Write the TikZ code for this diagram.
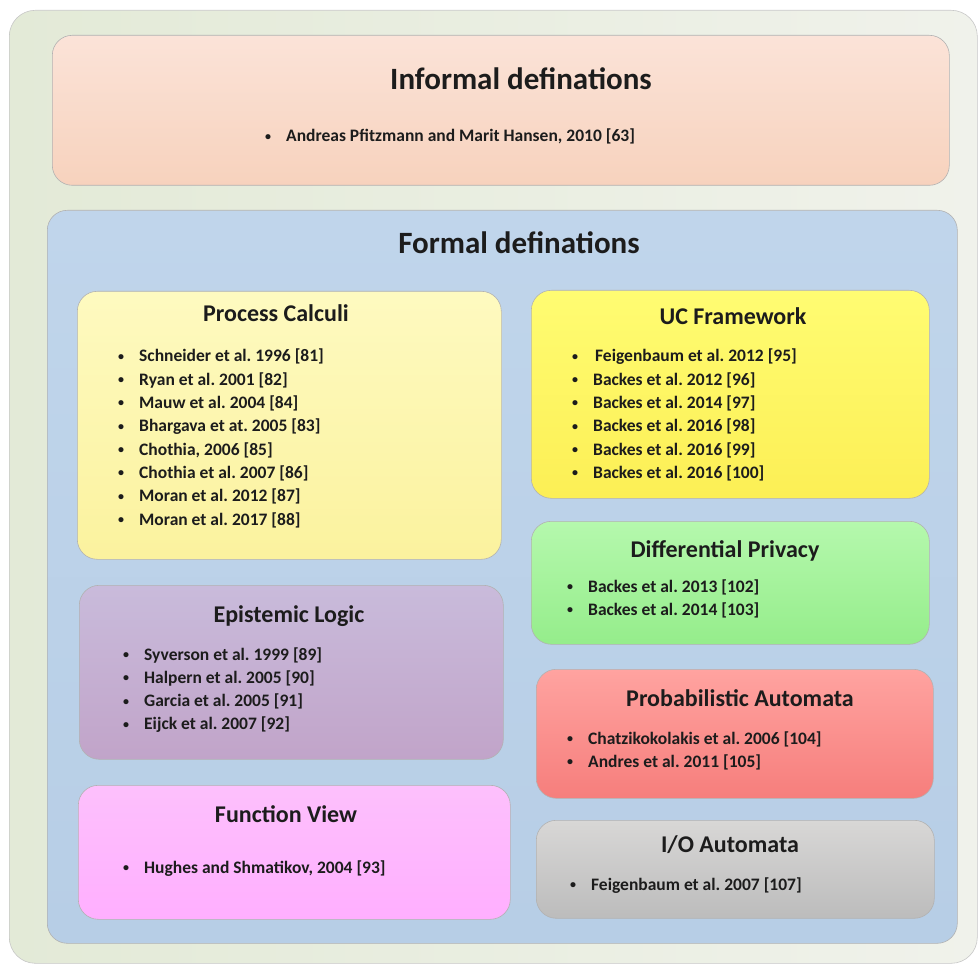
\documentclass[tikz,border=0pt]{standalone}
\usepackage{fontspec}
\setmainfont{Carlito}
\usepackage{xcolor}
\usepackage{tikz}

\definecolor{ink}{HTML}{1C1C1C}
\definecolor{outerL}{HTML}{E3EAD7}
\definecolor{outerR}{HTML}{F0F2EB}
\definecolor{infT}{HTML}{FBE3D8}
\definecolor{infB}{HTML}{F7D2BD}
\definecolor{forT}{HTML}{C0D5EB}
\definecolor{forB}{HTML}{B7CEE6}
\definecolor{calcT}{HTML}{FEFAC0}
\definecolor{calcB}{HTML}{FBF29E}
\definecolor{ucT}{HTML}{FFFC72}
\definecolor{ucB}{HTML}{FCEF55}
\definecolor{dpT}{HTML}{B5F8AD}
\definecolor{dpB}{HTML}{95ED8B}
\definecolor{epT}{HTML}{C9BBDB}
\definecolor{epB}{HTML}{C1A4C9}
\definecolor{fvT}{HTML}{FDC0FC}
\definecolor{fvB}{HTML}{FFAFFF}
\definecolor{paT}{HTML}{FFA3A0}
\definecolor{paB}{HTML}{F67E7C}
\definecolor{ioT}{HTML}{D8D7D6}
\definecolor{ioB}{HTML}{BCBCBC}

\newcommand{\itm}{\makebox[21pt][l]{\raisebox{1.6pt}{\fontsize{12}{12}\selectfont\textbullet}}}
\newcommand{\reflist}[1]{\begin{tabular}[t]{@{}l@{}}#1\end{tabular}}

\begin{document}
\frenchspacing
\begin{tikzpicture}[x=1pt, y=-1pt,
  box/.style={rectangle, rounded corners=20pt, draw=black!30, line width=0.6pt,
              inner sep=0pt, anchor=north west},
  head/.style={anchor=base, inner sep=0pt, text=ink, font=\fontsize{24}{28}\selectfont\bfseries},
  big/.style={head, font=\fontsize{31}{36}\selectfont\bfseries},
  refs/.style={anchor=base west, inner sep=0pt, text=ink, font=\fontsize{17.5}{23.3}\selectfont\bfseries}
]
\useasboundingbox (0,0) rectangle (980,965);
% frames
\node[box, rounded corners=26pt, draw=black!22, left color=outerL, right color=outerR,
      minimum width=968pt, minimum height=953pt] (outer) at (9,10) {};
\node[box, top color=infT, bottom color=infB, minimum width=897pt, minimum height=150pt] (informal) at (52,35) {};
\node[box, top color=forT, bottom color=forB, minimum width=910pt, minimum height=733pt] (formal) at (47,210) {};
\node[box, top color=calcT, bottom color=calcB, minimum width=424pt, minimum height=268pt] (calc) at (77,291) {};
\node[box, top color=ucT, bottom color=ucB, minimum width=398pt, minimum height=208pt] (uc) at (531,290) {};
\node[box, top color=dpT, bottom color=dpB, minimum width=398pt, minimum height=123pt] (dp) at (531,521) {};
\node[box, top color=epT, bottom color=epB, minimum width=424pt, minimum height=174pt] (epist) at (79,585) {};
\node[box, top color=fvT, bottom color=fvB, minimum width=432pt, minimum height=134pt] (func) at (78,785) {};
\node[box, top color=paT, bottom color=paB, minimum width=397pt, minimum height=129pt] (prob) at (536,669) {};
\node[box, top color=ioT, bottom color=ioB, minimum width=398pt, minimum height=98pt] (io) at (536,820) {};
% titles
\node[big] (informalT) at (521,90) {Informal definations};
\node[big] (formalT) at (519,254) {Formal definations};
\node[head] (calcT) at (276,322) {Process Calculi};
\node[head] (ucT) at (733,325) {UC Framework};
\node[head] (dpT) at (725,557) {Differential Privacy};
\node[head] (epistT) at (289,622) {Epistemic Logic};
\node[head] (funcT) at (286,822) {Function View};
\node[head] (probT) at (740,706) {Probabilistic Automata};
\node[head] (ioT) at (730,852) {I/O Automata};
% references
\node[refs] (informalL) at (265,142) {\reflist{\itm Andreas Pfitzmann and Marit Hansen, 2010 [63]}};
\node[refs] (calcL) at (118,362) {\reflist{%
  \itm Schneider et al. 1996 [81]\\
  \itm Ryan et al. 2001 [82]\\
  \itm Mauw et al. 2004 [84]\\
  \itm Bhargava et at. 2005 [83]\\
  \itm Chothia, 2006 [85]\\
  \itm Chothia et al. 2007 [86]\\
  \itm Moran et al. 2012 [87]\\
  \itm Moran et al. 2017 [88]}};
\node[refs] (ucL) at (572,362) {\reflist{%
  \itm\hspace{2pt}Feigenbaum et al. 2012 [95]\\
  \itm Backes et al. 2012 [96]\\
  \itm Backes et al. 2014 [97]\\
  \itm Backes et al. 2016 [98]\\
  \itm Backes et al. 2016 [99]\\
  \itm Backes et al. 2016 [100]}};
\node[refs] (dpL) at (567,592) {\reflist{%
  \itm Backes et al. 2013 [102]\\
  \itm Backes et al. 2014 [103]}};
\node[refs] (epistL) at (123,660) {\reflist{%
  \itm Syverson et al. 1999 [89]\\
  \itm Halpern et al. 2005 [90]\\
  \itm Garcia et al. 2005 [91]\\
  \itm Eijck et al. 2007 [92]}};
\node[refs] (funcL) at (123,873) {\reflist{\itm Hughes and Shmatikov, 2004 [93]}};
\node[refs] (probL) at (567,744) {\reflist{%
  \itm Chatzikokolakis et al. 2006 [104]\\
  \itm Andres et al. 2011 [105]}};
\node[refs] (ioL) at (570,890) {\reflist{\itm Feigenbaum et al. 2007 [107]}};
\end{tikzpicture}
\end{document}
